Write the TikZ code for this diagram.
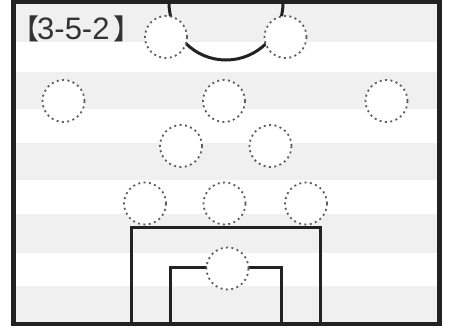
\documentclass[tikz,border=0pt]{standalone}
\usepackage{fontspec}
\setmainfont{Liberation Sans}
\newfontfamily\cjk{Noto Sans CJK JP}
\definecolor{stripegray}{HTML}{F0F0F0}
\definecolor{dotgray}{HTML}{5E5E5E}
\definecolor{linecol}{HTML}{222222}
\definecolor{labelcol}{HTML}{333333}
\begin{document}
\begin{tikzpicture}[x=1pt,y=-1pt,
  stripe/.style={fill=stripegray, draw=none},
  player/.style={circle, minimum size=42pt, inner sep=0pt, fill=white, draw=dotgray,
    line width=1.8pt, dash pattern=on 2pt off 3.4pt},
  pitchline/.style={draw=linecol, line width=3pt},
  framestyle/.style={draw=linecol, line width=4.5pt},
  labeltext/.style={inner sep=0pt, text=labelcol}]
\useasboundingbox (0,0) rectangle (450,326);
\fill[white] (0,0) rectangle (450,326);
% stripes
\path[stripe] (13,0) rectangle (440,42);
\path[stripe] (13,72) rectangle (440,109.5);
\path[stripe] (13,143) rectangle (440,180.5);
\path[stripe] (13,214) rectangle (440,253);
\path[stripe] (13,286) rectangle (440,326);
% centre circle arc
\coordinate (arcL) at (169,3);
\draw[pitchline] (arcL) arc[start angle=180, end angle=0, radius=57];
% penalty box and goal area
\coordinate (pbBL) at (131.5,326);
\coordinate (pbTL) at (131.5,227.5);
\coordinate (pbTR) at (320,227.5);
\coordinate (pbBR) at (320,326);
\draw[pitchline] (pbBL) -- (pbTL) -- (pbTR) -- (pbBR);
\coordinate (gaBL) at (170,326);
\coordinate (gaTL) at (170,267.5);
\coordinate (gaTR) at (281.5,267.5);
\coordinate (gaBR) at (281.5,326);
\draw[pitchline] (gaBL) -- (gaTL) -- (gaTR) -- (gaBR);
% players
\node[player] (f1) at (166,37) {};
\node[player] (f2) at (285.5,37) {};
\node[player] (m1) at (63.5,101) {};
\node[player] (m2) at (224,101) {};
\node[player] (m3) at (386.5,101) {};
\node[player] (m4) at (181,146) {};
\node[player] (m5) at (270.5,146) {};
\node[player] (d1) at (145,203.5) {};
\node[player] (d2) at (224.5,203.5) {};
\node[player] (d3) at (306,203.5) {};
\node[player] (gk) at (227.5,268.5) {};
% frame
\draw[framestyle] (13.5,2) rectangle (439.5,324.5);
% label
\node[labeltext, anchor=base west, font=\fontsize{31}{31}\selectfont] (num) at (37,40) {3-5-2};
\node[labeltext, anchor=base east, xshift=2.5pt, font=\cjk\fontsize{28}{28}\selectfont] (lb) at (num.base west) {【};
\node[labeltext, anchor=base west, xshift=4pt, font=\cjk\fontsize{28}{28}\selectfont] (rb) at (num.base east) {】};
\end{tikzpicture}
\end{document}
